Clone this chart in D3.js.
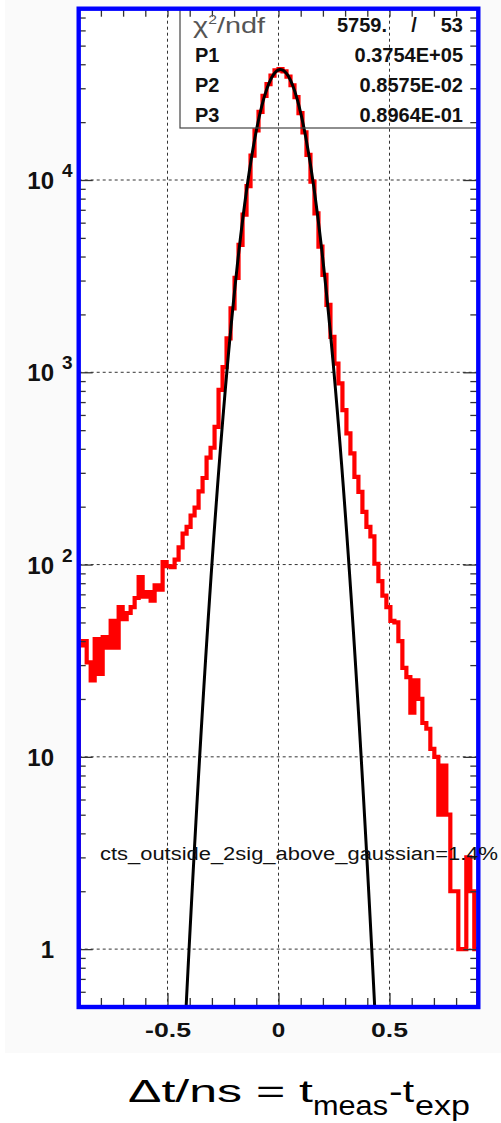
<!DOCTYPE html>
<html>
<head>
<meta charset="utf-8">
<script src="https://cdn.jsdelivr.net/npm/d3@7"></script>
<style>
  body { margin: 0; background: #ffffff; }
  svg { display: block; font-family: "Liberation Sans", Arial, Helvetica, sans-serif; }
</style>
</head>
<body>
<svg id="chart" width="501" height="1123"></svg>
<script>
// ---- data -------------------------------------------------------------
// Δt histogram: 100 equal bins spanning [-0.9, 0.9] ns
const histRange = [-0.9, 0.9];
const counts = [
  38, 40, 31, 25, 41, 27, 42, 37, 51, 37,
  60, 52, 56, 60, 67, 86, 68, 72, 65, 78,
  74, 103, 98, 97, 106, 123, 145, 157, 180, 198,
  240, 282, 360, 405, 520, 810, 1065, 1500, 2150, 3100,
  4600, 6600, 9300, 13400, 18100, 22600, 27400, 31500, 34900, 37200,
  37700, 36700, 34500, 31100, 27000, 22300, 17700, 13500, 9800, 6710,
  4500, 3210, 2240, 1530, 1110, 876, 636, 481, 379, 286,
  239, 188, 157, 140, 101, 82, 69, 60, 51, 50,
  40, 29, 26, 17, 25, 20, 15, 14, 11, 10,
  5, 9, 5, 2, 2, 1, 1, 3, 2, 1
];

// fit statistics box
const chi2Value = "5759.";
const ndfValue = "53";
const paramNames = ["P1", "P2", "P3"];
const paramValues = ["0.3754E+05", "0.8575E-02", "0.8964E-01"];

// axis labelling
const yDecades = [1, 10, 100, 1000, 10000];
const yExponents = ["", "", "2", "3", "4"];
const yMantissas = ["1", "10", "10", "10", "10"];
const xLabelValues = [-0.5, 0, 0.5];
const xLabelTexts = ["-0.5", "0", "0.5"];
const gridX = [-0.5, 0, 0.5];

const outsideNote = "cts_outside_2sig_above_gaussian=1.4%";

// ---- layout -----------------------------------------------------------
const svg = d3.select("#chart");
const frame = { l: 78.7, r: 478.3, t: 8.7, b: 1007 };
const yRange = [0.5, 77800];

const x = d3.scaleLinear().domain(histRange).range([frame.l, frame.r]);
const y = d3.scaleLog().domain(yRange).range([frame.b, frame.t]);

// pad (canvas) background and plot area
svg.append("rect").attr("x", 5).attr("y", 0).attr("width", 496).attr("height", 1053)
  .attr("fill", "#fafafa");
svg.append("rect").attr("x", frame.l).attr("y", frame.t)
  .attr("width", frame.r - frame.l).attr("height", frame.b - frame.t)
  .attr("fill", "#ffffff");

svg.append("clipPath").attr("id", "plotClip")
  .append("rect").attr("x", frame.l).attr("y", frame.t)
  .attr("width", frame.r - frame.l).attr("height", frame.b - frame.t);

// ---- grid -------------------------------------------------------------
const grid = svg.append("g").attr("stroke", "#333").attr("stroke-width", 1)
  .attr("stroke-dasharray", "3,3");
grid.selectAll("line.gx").data(gridX).join("line").attr("class", "gx")
  .attr("x1", d => x(d)).attr("x2", d => x(d))
  .attr("y1", frame.t).attr("y2", frame.b);
grid.selectAll("line.gy").data(yDecades).join("line").attr("class", "gy")
  .attr("x1", frame.l).attr("x2", frame.r)
  .attr("y1", d => y(d)).attr("y2", d => y(d));

// ---- histogram --------------------------------------------------------
const nBins = counts.length;
const binW = (histRange[1] - histRange[0]) / nBins;
const edge = i => histRange[0] + i * binW;
const floorVal = yRange[0] * 0.5;
const histPts = [[edge(0), floorVal]];
counts.forEach((c, i) => histPts.push([edge(i), Math.max(c, floorVal)]));
histPts.push([edge(nBins), Math.max(counts[nBins - 1], floorVal)]);
histPts.push([edge(nBins), floorVal]);

const stepLine = d3.line().curve(d3.curveStepAfter)
  .x(d => x(d[0])).y(d => y(d[1]));

svg.append("path").attr("clip-path", "url(#plotClip)")
  .attr("d", stepLine(histPts))
  .attr("fill", "none").attr("stroke", "#ff0000").attr("stroke-width", 4.2)
  .attr("stroke-linejoin", "miter");

// ---- gaussian fit -----------------------------------------------------
const P1 = +paramValues[0], P2 = +paramValues[1], P3 = +paramValues[2];
const fitX = d3.range(histRange[0], histRange[1] + 1e-9, 0.002);
const fitLine = d3.line()
  .x(d => x(d))
  .y(d => y(Math.max(P1 * Math.exp(-0.5 * ((d - P2) / P3) ** 2), 1e-3)));
svg.append("path").attr("clip-path", "url(#plotClip)")
  .attr("d", fitLine(fitX))
  .attr("fill", "none").attr("stroke", "#000").attr("stroke-width", 3);

// ---- ticks ------------------------------------------------------------
const yMinor = y.ticks().filter(v => v >= yRange[0] && v <= yRange[1]);
const isDecade = v => Math.abs(Math.log10(v) - Math.round(Math.log10(v))) < 1e-9;
const tickStyle = g => {
  g.select(".domain").remove();
  g.selectAll("line").attr("stroke", "#333").attr("stroke-width", 1.3);
};

svg.append("g").attr("transform", `translate(${frame.l},0)`)
  .call(d3.axisRight(y).tickValues(yMinor.filter(v => !isDecade(v))).tickSize(7).tickFormat(""))
  .call(tickStyle);
svg.append("g").attr("transform", `translate(${frame.l},0)`)
  .call(d3.axisRight(y).tickValues(yMinor.filter(isDecade)).tickSize(14).tickFormat(""))
  .call(tickStyle);
svg.append("g").attr("transform", `translate(${frame.r},0)`)
  .call(d3.axisLeft(y).tickValues(yMinor.filter(v => !isDecade(v))).tickSize(8).tickFormat(""))
  .call(tickStyle);
svg.append("g").attr("transform", `translate(${frame.r},0)`)
  .call(d3.axisLeft(y).tickValues(yMinor.filter(isDecade)).tickSize(15).tickFormat(""))
  .call(tickStyle);

const xTicks = d3.range(-9, 10).map(k => k / 10);
const xMajor = v => xLabelValues.some(m => Math.abs(m - v) < 1e-9);
svg.append("g").attr("transform", `translate(0,${frame.b})`)
  .call(d3.axisTop(x).tickValues(xTicks.filter(v => !xMajor(v))).tickSize(9).tickFormat(""))
  .call(tickStyle);
svg.append("g").attr("transform", `translate(0,${frame.b})`)
  .call(d3.axisTop(x).tickValues(xTicks.filter(xMajor)).tickSize(14).tickFormat(""))
  .call(tickStyle);
svg.append("g").attr("transform", `translate(0,${frame.t})`)
  .call(d3.axisBottom(x).tickValues(xTicks).tickSize(8).tickFormat(""))
  .call(tickStyle);

// ---- statistics box -----------------------------------------------------
const box = { l: 180, b: 128 };
svg.append("rect").attr("x", box.l).attr("y", frame.t)
  .attr("width", frame.r - box.l).attr("height", box.b - frame.t)
  .attr("fill", "none").attr("stroke", "#444").attr("stroke-width", 1.2);

const chiLabel = svg.append("text").attr("x", 193).attr("y", 33)
  .attr("font-size", 22).attr("fill", "#555").attr("font-weight", 300)
  .attr("textLength", 72).attr("lengthAdjust", "spacingAndGlyphs");
chiLabel.append("tspan").text("χ");
chiLabel.append("tspan").attr("dy", -9).attr("font-size", 12).text("2");
chiLabel.append("tspan").attr("dy", 9).text("/ndf");

svg.append("text").attr("x", 387).attr("y", 32).attr("text-anchor", "end")
  .attr("font-size", 20).attr("font-weight", "bold").attr("fill", "#111").text(chi2Value);
svg.append("text").attr("x", 414).attr("y", 32).attr("text-anchor", "middle")
  .attr("font-size", 20).attr("font-weight", "bold").attr("fill", "#111").text("/");
svg.append("text").attr("x", 463).attr("y", 32).attr("text-anchor", "end")
  .attr("font-size", 20).attr("font-weight", "bold").attr("fill", "#111").text(ndfValue);

paramNames.forEach((name, i) => {
  const by = 62 + i * 30;
  svg.append("text").attr("x", 195).attr("y", by)
    .attr("font-size", 20).attr("font-weight", "bold").attr("fill", "#111").text(name);
  svg.append("text").attr("x", 463).attr("y", by).attr("text-anchor", "end")
    .attr("font-size", 20).attr("font-weight", "bold").attr("fill", "#111").text(paramValues[i]);
});

// ---- frame --------------------------------------------------------------
svg.append("rect").attr("x", frame.l).attr("y", frame.t)
  .attr("width", frame.r - frame.l).attr("height", frame.b - frame.t)
  .attr("fill", "none").attr("stroke", "#0000ff").attr("stroke-width", 4.4);

// ---- axis labels ----------------------------------------------------------
yDecades.forEach((v, i) => {
  const ty = y(v);
  svg.append("text").attr("x", 54).attr("y", ty + 9).attr("text-anchor", "end")
    .attr("font-size", 24).attr("font-weight", "bold").attr("fill", "#111")
    .text(yMantissas[i]);
  if (yExponents[i]) {
    svg.append("text").attr("x", 62).attr("y", ty - 3)
      .attr("font-size", 19).attr("font-weight", "bold").attr("fill", "#111")
      .text(yExponents[i]);
  }
});

const xLabelWidths = [46, 13.5, 37];
xLabelValues.forEach((v, i) => {
  svg.append("text").attr("x", x(v) - xLabelWidths[i] / 2 + (i === 0 ? 0.5 : 0)).attr("y", 1037)
    .attr("font-size", 20).attr("font-weight", "bold").attr("fill", "#111")
    .attr("textLength", xLabelWidths[i]).attr("lengthAdjust", "spacingAndGlyphs")
    .text(xLabelTexts[i]);
});

svg.append("text").attr("x", 100).attr("y", 860)
  .attr("font-size", 18).attr("fill", "#111")
  .attr("textLength", 398).attr("lengthAdjust", "spacingAndGlyphs")
  .text(outsideNote);

// ---- x-axis title: Δt/ns = t_meas - t_exp ----------------------------------
const title = svg.append("g").attr("fill", "#000").attr("font-size", 31);
title.append("text").attr("x", 128).attr("y", 1102)
  .attr("textLength", 185).attr("lengthAdjust", "spacingAndGlyphs").text("Δt/ns = t");
title.append("text").attr("x", 313).attr("y", 1115).attr("font-size", 27)
  .attr("textLength", 75).attr("lengthAdjust", "spacingAndGlyphs").text("meas");
title.append("text").attr("x", 389).attr("y", 1102)
  .attr("textLength", 25).attr("lengthAdjust", "spacingAndGlyphs").text("-t");
title.append("text").attr("x", 415).attr("y", 1115).attr("font-size", 27)
  .attr("textLength", 55).attr("lengthAdjust", "spacingAndGlyphs").text("exp");
</script>
</body>
</html>
